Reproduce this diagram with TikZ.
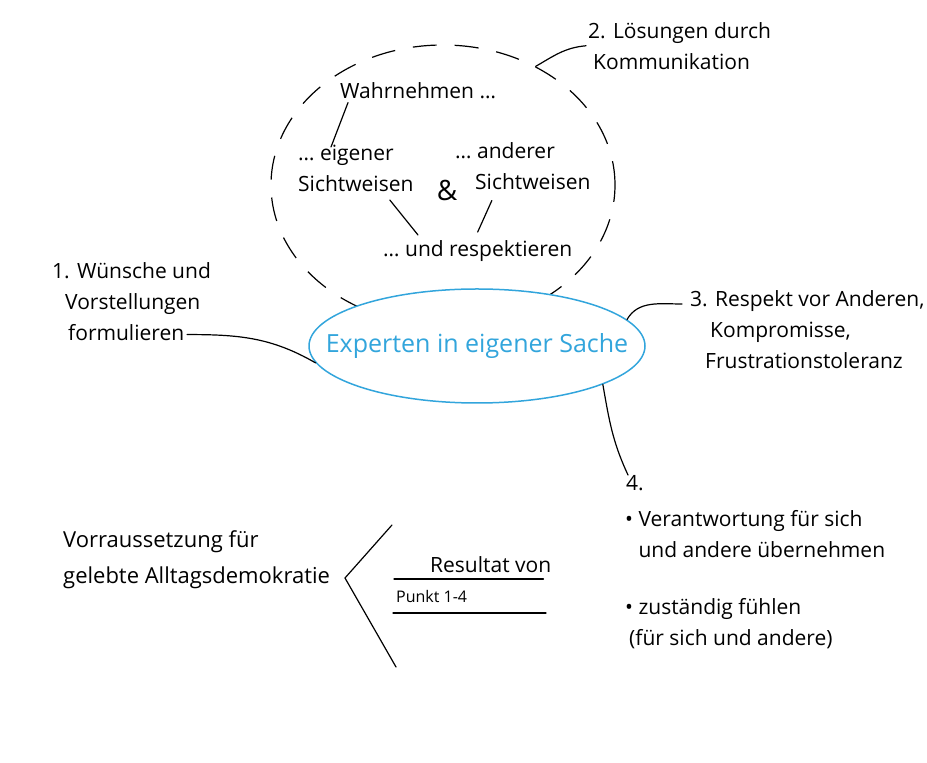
\documentclass[tikz,border=0pt]{standalone}
\usepackage{fontspec}
\setmainfont{Open Sans}
\usepackage{xcolor}
\usetikzlibrary{calc,shapes.geometric}
\definecolor{expertblue}{RGB}{50,165,220}

\begin{document}
\begin{tikzpicture}[x=1pt,y=1pt]
    % Styles for text, bubbles and lines
    \tikzset{
      txt/.style={inner sep=0pt, align=left, font=\fontsize{21}{31}\selectfont},
      bubble/.style={ellipse, draw=black, line width=1.2pt, dash pattern=on 24pt off 18pt, minimum width=344pt, minimum height=280pt, inner sep=0pt},
      expert/.style={ellipse, draw=expertblue, fill=white, line width=1.5pt, minimum width=336pt, minimum height=114pt, inner sep=0pt},
      experttext/.style={text=expertblue, font=\fontsize{25}{30}\selectfont},
      link/.style={line width=1.2pt, line cap=round}
    }

    \useasboundingbox (0,0) rectangle (927,763);

    % Dashed bubble and the centre
    \node[bubble] (komm) at (443,578) {};
    \node[expert, label={[experttext]center:Experten in eigener Sache}] (EiS) at (477,417) {};

    % Nodes with explicit coordinates
    \node[txt, anchor=north west] (wahr) at (340,681) {Wahrnehmen \dots};
    \node[txt, anchor=north west] (eig) at (298,618) {\dots\ eigener\\Sichtweisen};
    \node[txt, font=\fontsize{28}{30}\selectfont] (amp) at (447,573) {\&};
    \node[txt, anchor=north west] (and) at (455,621) {\dots\ anderer\\\hspace*{20pt}Sichtweisen};
    \node[txt, anchor=north west] (resp) at (383,523) {\dots\ und respektieren};

    \node[txt, anchor=north west] (loes) at (588,741) {2. Lösungen durch\\\hspace*{5pt}Kommunikation};
    \node[txt, anchor=north west] (wuen) at (52,501) {1. Wünsche und\\\hspace*{13pt}Vorstellungen\\\hspace*{16pt}formulieren};
    \node[txt, anchor=north west] (resp3) at (690,473) {3. Respekt vor Anderen,\\\hspace*{20pt}Kompromisse,\\\hspace*{15pt}Frustrationstoleranz};

    \node[txt, anchor=north west] (vier) at (626,288) {4.};
    \node[txt, anchor=north west] (verant) at (625,253) {\textbullet\ Verantwortung für sich\\\phantom{\textbullet\ }und andere übernehmen};
    \node[txt, anchor=north west] (zust) at (625,165) {\textbullet\ zuständig fühlen\\\hspace*{4pt}(für sich und andere)};

    \node[txt, anchor=north west, font=\fontsize{22}{36}\selectfont] (vorr) at (63,233) {Vorraussetzung für\\gelebte Alltagsdemokratie};
    \node[txt, anchor=south west] (resu) at (430,190) {Resultat von};
    \node[txt, anchor=south west, font=\fontsize{16}{20}\selectfont] (punkt) at (396,160) {Punkt 1-4};

    % Chevron and rules
    \coordinate (chevtop) at (392,238);
    \coordinate (chevtip) at (345,185);
    \coordinate (chevbot) at (396,96);
    \draw[link] (chevtop) -- (chevtip) -- (chevbot);
    \draw[link] ([xshift=-36pt,yshift=-6pt]resu.south west) -- ([xshift=-8pt,yshift=-6pt]resu.south east);
    \draw[link] ([xshift=-3pt,yshift=-10pt]punkt.south west) -- ([xshift=150pt,yshift=-10pt]punkt.south west);

    % Lines inside the bubble
    \draw[link] ([xshift=8pt,yshift=-4pt]wahr.south west) -- ([xshift=33pt,yshift=-2pt]eig.north west);
    \draw[link] ([xshift=34pt,yshift=-8pt]eig.south) -- ([xshift=35pt,yshift=5pt]resp.north west);
    \draw[link] ([xshift=-31pt,yshift=-11pt]and.south) -- ([yshift=8pt]resp.north);

    % Lines to the centre
    \draw[link] ([xshift=-2pt]loes.west) to[out=185,in=30] (komm.52);
    \draw[link] ([xshift=-24pt,yshift=6pt]wuen.south east) to[out=0,in=150] (EiS.186);
    \draw[link] ([xshift=-8pt,yshift=-14pt]resp3.north west) to[out=180,in=60] (EiS.10);
    \draw[link] (EiS.-17) to[out=-80,in=115] ([xshift=2pt]vier.north west);

\end{tikzpicture}
\end{document}
